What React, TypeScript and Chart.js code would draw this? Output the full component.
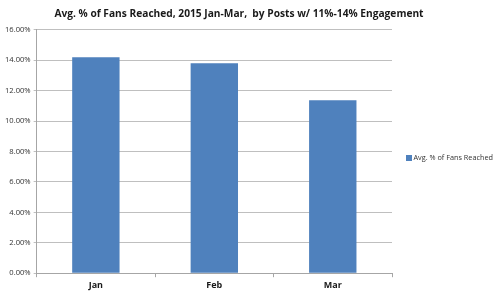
import React, { useEffect, useRef } from "react";
import { Chart, registerables } from "chart.js";

Chart.register(...registerables);

const categories = ["Jan", "Feb", "Mar"];
const seriesName = "Avg. % of Fans Reached";
const values = [14.2, 13.79, 11.36];
const yMax = 16;
const yStep = 2;
const titleText = "Avg. % of Fans Reached, 2015 Jan-Mar,  by Posts w/ 11%-14% Engagement";

const sideLegend = {
  id: "sideLegend",
  afterDraw(chart: any) {
    const ds = chart.data.datasets[0];
    const c = chart.ctx;
    const x = chart.chartArea.right + 14;
    const y = 158;
    c.save();
    c.fillStyle = ds.backgroundColor;
    c.fillRect(x, y - 3, 6, 6);
    c.fillStyle = "#333";
    c.font = "7.3px 'Open Sans'";
    c.textBaseline = "middle";
    c.textAlign = "left";
    c.fillText(ds.label, x + 7.5, y);
    c.restore();
  },
};

export default function App() {
  const ref = useRef<HTMLCanvasElement | null>(null);
  useEffect(() => {
    document.body.style.margin = "0";
    const ctx = ref.current!;
    const chart = new Chart(ctx, {
      type: "bar",
      data: {
        labels: categories,
        datasets: [
          {
            label: seriesName,
            data: values,
            backgroundColor: "#4f81bd",
            borderWidth: 0,
            barPercentage: 0.4,
            categoryPercentage: 1,
          },
        ],
      },
      plugins: [sideLegend],
      options: {
        animation: false,
        responsive: false,
        devicePixelRatio: 1,
        layout: { padding: { left: 2, right: 24, top: 0, bottom: 0 } },
        plugins: {
          title: {
            display: true,
            text: titleText,
            color: "#1a1a1a",
            font: { family: "Open Sans", size: 10.2, weight: "bold" },
            padding: { top: 8, bottom: 9.5 },
          },
          legend: { display: false },
          tooltip: { enabled: false },
        },
        scales: {
          x: {
            offset: true,
            grid: {
              display: true,
              offset: true,
              drawOnChartArea: false,
              drawTicks: true,
              tickLength: 4,
              color: "#a6a6a6",
            },
            border: { color: "#a6a6a6" },
            ticks: {
              color: "#1a1a1a",
              font: { family: "Open Sans", size: 9, weight: "bold" },
              padding: 3,
            },
          },
          y: {
            min: 0,
            max: yMax,
            grid: {
              color: "#bfbfbf",
              tickLength: 3,
            },
            border: { color: "#a6a6a6" },
            ticks: {
              stepSize: yStep,
              color: "#333",
              font: { family: "Open Sans", size: 7.6 },
              padding: 3,
              callback: (v: any) => Number(v).toFixed(2) + "%",
            },
          },
          legendSpace: {
            type: "linear",
            position: "right",
            display: true,
            grid: { display: false },
            border: { display: false },
            ticks: { display: false },
            afterFit: (s: any) => {
              s.width = 84;
            },
          },
        },
      },
    });
    return () => chart.destroy();
  }, []);
  return (
    <div style={{ width: 500, height: 294, background: "#fff" }}>
      <canvas ref={ref} width={500} height={294} />
    </div>
  );
}
